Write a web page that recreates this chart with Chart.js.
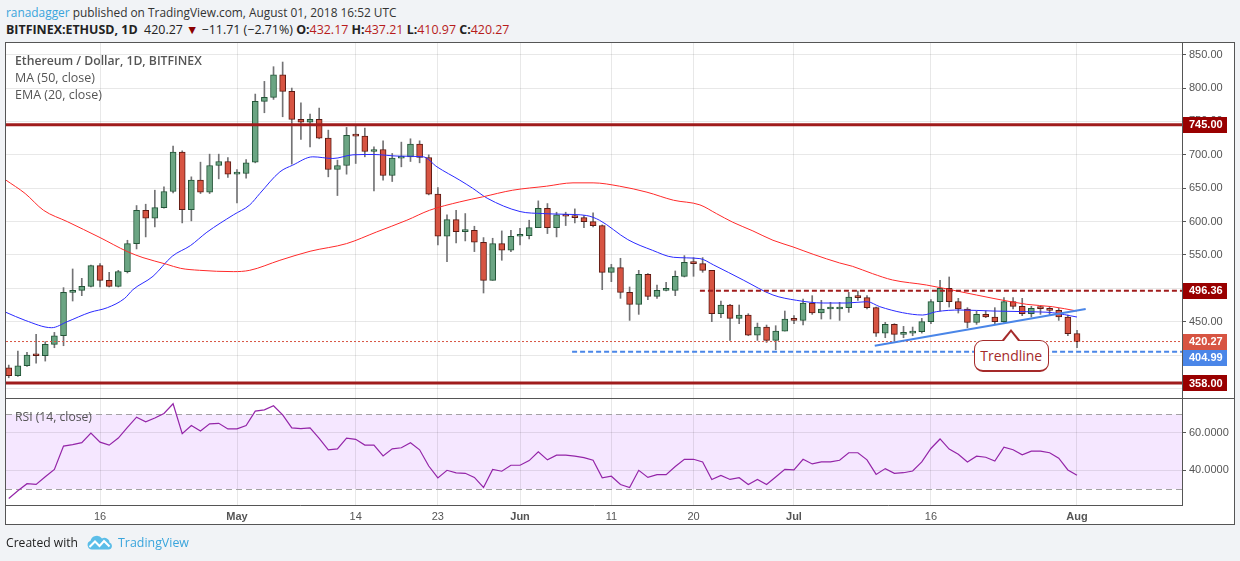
<!DOCTYPE html>
<html>
<head>
<meta charset="utf-8">
<script src="https://cdn.jsdelivr.net/npm/chart.js@4.4.0/dist/chart.umd.min.js"></script>
<style>
  body { margin:0; width:1240px; height:561px; overflow:hidden; background:#f1f3f6; position:relative;
         font-family:'Open Sans', sans-serif; color:#333; }
  .t { position:absolute; white-space:nowrap; transform:translateY(-50%); line-height:1.25; font-size:13px; }
  #frame { position:absolute; left:5px; top:42px; width:1230px; height:483px; box-sizing:border-box;
           border:1px solid #555; background:#fff; }
  #price { position:absolute; left:0; top:0; }
  #sep { position:absolute; left:0; top:355px; width:1228px; height:1px; background:#555; }
  #rsi { position:absolute; left:0; top:356px; }
  .leg { color:#555; }
  .r { color:#b71c1c; }
  #note { position:absolute; width:75px; height:32px; box-sizing:border-box; border:1.5px solid #a52a2a;
          border-bottom-width:2px; border-radius:9px; background:#fff; color:#a52a2a; font-size:14px;
          text-align:center; line-height:29px; font-family:'Open Sans', sans-serif; }
  #note:before, #note:after { content:''; position:absolute; left:50%; width:0; height:0;
          border-left:9px solid transparent; border-right:9px solid transparent; }
  #note:before { top:-12px; margin-left:-9px; border-bottom:11px solid #a52a2a; }
  #note:after  { top:-9.5px; margin-left:-7px; border-left-width:7px; border-right-width:7px; border-bottom:9px solid #fff; }
</style>
</head>
<body>
<div class="t" data-w="391" style="left:6px;top:12px"><span style="color:#3aa5dc">ranadagger</span> published on TradingView.com, August 01, 2018 16:52 UTC</div>
<div class="t" data-w="504" style="left:6px;top:30px;color:#222"><b>BITFINEX:ETHUSD, 1D</b>&nbsp; 420.27 <span style="color:#8b0000">▼</span> −11.71 (−2.71%) <b>O:</b><span class="r">432.17</span> <b>H:</b><span class="r">437.21</span> <b>L:</b><span class="r">410.97</span> <b>C:</b><span class="r">420.27</span></div>

<div id="frame">
  <canvas id="price" width="1228" height="355"></canvas>
  <div id="sep"></div>
  <canvas id="rsi" width="1228" height="125"></canvas>
</div>

<div class="t leg" data-w="187" style="left:15px;top:61px;font-weight:600">Ethereum / Dollar, 1D, BITFINEX</div>
<div class="t leg" data-w="80" style="left:15px;top:78px">MA (50, close)</div>
<div class="t leg" data-w="87" style="left:15px;top:95px">EMA (20, close)</div>
<div class="t leg" data-w="77" style="left:15px;top:417px">RSI (14, close)</div>
<div id="note">Trendline</div>

<div class="t" data-w="72" style="left:6px;top:543px;color:#222">Created with</div>
<svg style="position:absolute;left:87px;top:535px" width="26" height="15" viewBox="0 0 26 15">
  <path d="M5 14.5 A4.5 4.5 0 0 1 3.5 5.8 A6.5 6.5 0 0 1 15 3.5 A5 5 0 0 1 22.5 7.5 A3.6 3.6 0 0 1 21.5 14.5 Z" fill="#5bbde8"/>
  <polyline points="2.5,12 8,6.5 12.5,11 17,6 22.5,11.5" fill="none" stroke="#fff" stroke-width="2"/>
</svg>
<div class="t" data-w="71" style="left:118px;top:543px;color:#3aa5dc">TradingView</div>

<script>
// ---- data: daily candles, 6 Apr 2018 (index 0) .. 1 Aug 2018 (index 117) ----
const opens = [
  381,369,384,401,399,416,429,494,497,503,
  534,512,503,525,567,617,605,621,645,704,
  618,662,644,684,690,671,672,689,780,786,
  820,795,753,749,753,725,678,684,729,728,
  705,708,669,695,697,716,696,641,578,603,
  585,587,569,512,567,557,578,579,591,620,
  591,610,608,606,600,594,524,531,494,476,
  521,488,497,497,518,539,537,527,462,475,
  455,460,430,442,422,436,454,452,478,463,
  469,469,471,487,486,471,433,446,431,433,
  435,450,480,500,480,469,449,461,457,450,
  480,473,462,470.5,470,467,457,432.17
];
const highs = [
  385,406,404,431,420,434,501,529,515,535,
  537,524,527,572,624,626,647,652,713,706,
  667,689,701,701,696,678,693,791,810,832,
  839,800,778,761,770,737,692,741,743,740,
  712,721,702,719,724,721,700,651,610,617,
  612,593,576,575,586,587,590,602,631,627,
  614,614,619,609,613,595,536,545,502,527,
  522,505,509,526,549,546,546,527,481,476,
  475,462,448,445,444,466,459,484,489,482,
  479,479,494,496,489,472,449,447,443,442,
  455,483,512,517,485,471,466,466,471,486,
  486,485,473,473,473,470,460,437.21
];
const lows = [
  366,368,383,388,391,411,414,481,489,502,
  502,502,502,523,559,577,592,620,643,598,
  601,642,642,664,666,628,665,688,763,783,
  757,686,723,712,724,667,639,671,687,697,
  646,662,660,682,690,688,640,565,540,568,
  571,555,493,512,542,555,565,574,591,582,
  577,594,598,591,592,498,510,485,452,461,
  483,485,496,489,517,518,524,450,456,422,
  447,429,422,419,408,436,447,445,461,454,
  454,452,464,482,469,428,426,421,426,429,
  433,447,466,472,463,441,446,456,447,449,
  469,459,457,461,460,452,429,410.97
];
const closes = [
  369,384,400,399,416,429,494,497,503,534,
  512,503,525,567,617,605,621,645,704,618,
  662,644,684,690,671,672,688,780,786,820,
  795,753,749,753,725,678,684,729,728,705,
  707,669,695,697,716,696,641,578,603,585,
  587,569,512,567,557,578,579,591,620,591,
  610,608,606,600,594,524,531,494,476,521,
  488,497,498,518,539,537,527,462,475,455,
  460,430,442,422,436,454,452,478,463,469,
  470,471,487,486,471,433,446,431,433,435,
  450,480,500,480,469,449,461,457,450,480,
  473,462,470,469.5,467,457,432,420.27
];
// RSI (14) per day
const rsi = [
  24.9,29,32.8,32.4,36.5,40.5,53,53.8,54.8,60,
  55.1,53.5,57.3,63,68.5,66,68,70.5,75.7,59.6,
  64,61.1,64.9,65.2,62.2,62.2,64,71.7,72.4,74.6,
  69.7,62.7,62.3,62.7,57.1,51,51.5,57.3,56.6,53.5,
  53.5,47.7,51.5,52.1,54.8,51,42.3,35.9,40,38.6,
  38.4,36.2,30.8,40.5,39.5,42.7,42.7,45.2,49.9,45.6,
  48.1,48.1,47.6,46.8,45.4,36,36.8,32.4,30.8,40,
  36.2,37.7,37.7,42,45.9,45.9,44.5,35.1,37.3,35.1,
  36,32.4,35.1,32.4,36.4,40.5,40.2,45.9,43.4,44.5,
  44.5,45.4,49.4,49.4,45.6,37.8,40.9,38.4,38.7,39.6,
  44.5,51.7,56.8,51.4,48.6,44.5,47.6,47,45,52.4,
  51,48.3,50.3,50.3,49.4,46.5,40.2,37.3
];
// MA(50) and EMA(20) at these day positions
const maDays = [-0.3,1.8,3.8,6.4,10,13,14.7,17.3,18.8,20.9,24.6,26.4,29.7,33,37,40.3,43.6,46.1,49.4,51.9,55.2,58.9,61.8,64,66.9,69.9,72.8,75.7,77.5,79.3,81.5,83.7,85.9,88.1,91,92.4,94.6,96.8,100.5,104.2,107.8,111.5,114.3,117];
const maVals = [662,642,617,600,576,555,546,536,530,527,525,527,542,555.5,567,584.5,602,617,629.5,637,647,653,658,658,653,644,632,625,612,599,586,572,562,551,538,533,522,512.5,505,495,485,476,472.5,466];
const emaDays = [-0.3,1.8,4.7,6.4,8.9,10.8,12.7,13.6,15.8,17.9,19.9,21.7,24.6,26.4,27.5,29.7,31.1,33.3,35.5,37.7,39.9,42.8,45.4,46.9,49.4,50.8,52.4,56,58.5,60.7,63.3,64.7,67.8,70.5,72.8,75.7,77.2,80.5,83.7,86.3,89.2,91.8,94,95.4,97.9,100.1,101.6,104.2,107.8,111.5,114.3,117];
const emaVals = [464,452,441,450,464,471,485,498,518,548,564,584,610,625,642,674.5,684.5,697,694.5,700,700.5,698,697,682,662,650,635,615,612,611,609,602,573,557,546.5,544.5,535,512,490,482,478,478,480,472.5,463.5,460,465,467.5,466,465,463.5,457];

// drawn levels (price, first day) and the trendline
const levelVals  = [745, 496.36, 420.27, 404.99, 358];
const levelStart = [-0.3, 75.7, -0.3, 61.7, -0.3];
const trendDays = [94.85, 117.95];
const trendVals = [414, 469];
const noteDay = 109.8, notePrice = 438.6;

// axes
const tickDays   = [10, 25, 38, 47, 56, 66, 75, 86, 101, 117];
const tickLabels = ['16', 'May', '14', '23', 'Jun', '11', '20', 'Jul', '16', 'Aug'];
const priceTicks = [350, 400, 450, 500, 550, 600, 650, 700, 750, 800, 850];
const rsiTicks   = [40, 60];
const X_MIN = -0.3, X_MAX = 128.5;

// ---- fit header / legend text to measured widths ----
document.querySelectorAll('[data-w]').forEach(function (el) {
  var base = parseFloat(getComputedStyle(el).fontSize);
  el.style.fontSize = (base * el.dataset.w / el.getBoundingClientRect().width) + 'px';
});

const AXF = "'Liberation Sans', Arial, sans-serif";
const GRID = 'rgba(0,0,0,0.09)';

const up = opens.map((o, i) => closes[i] >= o);
const levelStyle = [
  { c: '#a01c1c', w: 3, d: [],     box: '#990000' },
  { c: '#a01c1c', w: 2, d: [5, 3], box: '#990000' },
  { c: '#d75442', w: 1, d: [2, 2], box: '#d75442' },
  { c: '#4a86e8', w: 2, d: [5, 3], box: '#4a86e8' },
  { c: '#a01c1c', w: 3, d: [],     box: '#990000' }
];

// no label padding: plot area must fill the pane exactly
function yAxisFit(s) { s.width = 52; s.paddingTop = 0; s.paddingBottom = 0; }
function xAxisFit(h) { return s => { s.height = h; s.paddingLeft = 0; s.paddingRight = 0; }; }

// ── price labels on the right axis ──
const boxPlugin = {
  id: 'boxes',
  afterDraw(chart) {
    const ctx = chart.ctx, y = chart.scales.y, x = chart.scales.x, a = chart.chartArea;
    const items = levelVals.map((v, i) => ({ v: v, y: y.getPixelForValue(v), c: levelStyle[i].box }))
                           .sort((p, q) => p.y - q.y);
    let last = -1e9;
    ctx.save();
    ctx.font = 'bold 11px ' + AXF;
    ctx.textBaseline = 'middle';
    items.forEach(it => {
      let cy = Math.max(it.y, last + 16);
      last = cy;
      ctx.fillStyle = it.c;
      ctx.fillRect(a.right + 1, Math.round(cy - 8), 44, 16);
      ctx.fillStyle = '#fff';
      ctx.fillText(it.v.toFixed(2), a.right + 7, cy + 0.5);
    });
    ctx.restore();
    // callout anchored to the chart's data coordinates
    const note = document.getElementById('note');
    const cv = chart.canvas.getBoundingClientRect();
    const tx = cv.left + x.getPixelForValue(noteDay), ty = cv.top + y.getPixelForValue(notePrice);
    note.style.left = (tx - 37.5) + 'px';
    note.style.top = (ty + 11) + 'px';
  }
};

const lineSets = [
  { type: 'line', data: maDays.map((d, i) => ({ x: d, y: maVals[i] })), borderColor: '#ff2a2a', borderWidth: 1,
    pointRadius: 0, cubicInterpolationMode: 'monotone', order: 3 },
  { type: 'line', data: emaDays.map((d, i) => ({ x: d, y: emaVals[i] })), borderColor: '#2a2aff', borderWidth: 1,
    pointRadius: 0, cubicInterpolationMode: 'monotone', order: 3 }
];
levelVals.forEach((v, i) => {
  lineSets.push({ type: 'line', data: [{ x: levelStart[i], y: v }, { x: X_MAX, y: v }],
    borderColor: levelStyle[i].c, borderWidth: levelStyle[i].w, borderDash: levelStyle[i].d,
    pointRadius: 0, order: 2 });
});
lineSets.push({ type: 'line', data: trendDays.map((d, i) => ({ x: d, y: trendVals[i] })),
  borderColor: '#4a86e8', borderWidth: 2, pointRadius: 0, order: 1 });

new Chart(document.getElementById('price'), {
  type: 'bar',
  data: {
    datasets: [
      { data: opens.map((o, i) => ({ x: i, y: [lows[i], highs[i]] })), backgroundColor: '#737375',
        barThickness: 1, grouped: false, order: 5 },
      { data: opens.map((o, i) => ({ x: i, y: [o, closes[i]] })),
        backgroundColor: up.map(u => u ? '#6ba583' : '#d75442'),
        borderColor: up.map(u => u ? '#225437' : '#5b1a13'),
        borderWidth: 1, borderSkipped: false, barThickness: 6, minBarLength: 2, grouped: false, order: 4 }
    ].concat(lineSets)
  },
  options: {
    responsive: false, animation: false, events: [],
    layout: { padding: 0 },
    plugins: { legend: { display: false }, tooltip: { enabled: false } },
    scales: {
      x: {
        type: 'linear', min: X_MIN, max: X_MAX, offset: false,
        grid: { color: GRID, offset: false, drawTicks: false },
        border: { display: false },
        ticks: { display: false },
        afterBuildTicks: s => { s.ticks = tickDays.map(v => ({ value: v })); },
        afterFit: xAxisFit(0)
      },
      y: {
        position: 'right', min: 335.7, max: 867.5,
        grid: { color: GRID, tickColor: '#555', tickLength: 4 },
        border: { color: '#555' },
        ticks: { color: '#555', font: { family: AXF, size: 11 }, padding: 3, callback: v => v.toFixed(2) },
        afterBuildTicks: s => { s.ticks = priceTicks.map(v => ({ value: v })); },
        afterFit: yAxisFit
      }
    }
  },
  plugins: [boxPlugin]
});

// ── RSI pane ──
const bandPlugin = {
  id: 'band',
  beforeDraw(chart) {
    const ctx = chart.ctx, y = chart.scales.y, a = chart.chartArea;
    ctx.save();
    ctx.fillStyle = 'rgba(153,21,255,0.1)';
    ctx.fillRect(a.left, y.getPixelForValue(70), a.width, y.getPixelForValue(30) - y.getPixelForValue(70));
    ctx.restore();
  },
  beforeDatasetsDraw(chart) {
    const ctx = chart.ctx, y = chart.scales.y, a = chart.chartArea;
    ctx.save();
    ctx.strokeStyle = '#a3a3a3';
    ctx.lineWidth = 1;
    ctx.setLineDash([6, 4]);
    [70, 30].forEach(v => {
      const py = Math.round(y.getPixelForValue(v)) + 0.5;
      ctx.beginPath(); ctx.moveTo(a.left, py); ctx.lineTo(a.right, py); ctx.stroke();
    });
    ctx.restore();
  }
};

new Chart(document.getElementById('rsi'), {
  type: 'line',
  data: {
    datasets: [{ data: rsi.map((v, i) => ({ x: i, y: v })), borderColor: '#9425a8', borderWidth: 1.2,
                 pointRadius: 0, tension: 0 }]
  },
  options: {
    responsive: false, animation: false, events: [],
    layout: { padding: 0 },
    plugins: { legend: { display: false }, tooltip: { enabled: false } },
    scales: {
      x: {
        type: 'linear', min: X_MIN, max: X_MAX, offset: false,
        grid: { color: GRID, drawTicks: false },
        border: { color: '#555' },
        ticks: {
          color: '#555', padding: 5, maxRotation: 0, autoSkip: false,
          font: c => ({ family: AXF, size: 11, weight: (c.tick && isNaN(Number(c.tick.label))) ? 'bold' : 'normal' }),
          callback: (v, i) => tickLabels[i]
        },
        afterBuildTicks: s => { s.ticks = tickDays.map(v => ({ value: v })); },
        afterFit: xAxisFit(19)
      },
      y: {
        position: 'right', min: 21.39, max: 78.23,
        grid: { color: GRID, tickColor: '#555', tickLength: 4 },
        border: { color: '#555' },
        ticks: { color: '#555', font: { family: AXF, size: 11 }, padding: 3, callback: v => v.toFixed(4) },
        afterBuildTicks: s => { s.ticks = rsiTicks.map(v => ({ value: v })); },
        afterFit: yAxisFit
      }
    }
  },
  plugins: [bandPlugin]
});
</script>
</body>
</html>
